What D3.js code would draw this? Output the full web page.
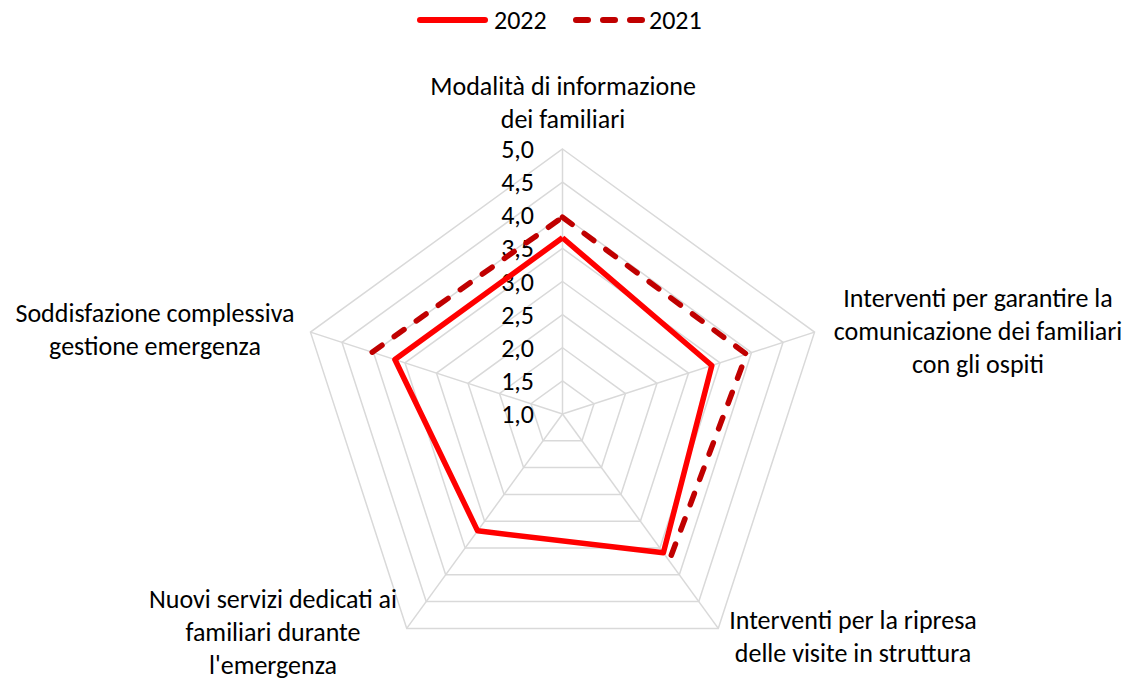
<!DOCTYPE html>
<html>
<head>
<meta charset="utf-8">
<script src="https://cdn.jsdelivr.net/npm/d3@7"></script>
<style>
  body{margin:0;background:#fff;}
  svg text{font-family:Carlito,Calibri,Lato,sans-serif;fill:#000;}
</style>
</head>
<body>
<div class="Radar"></div>
<script>
// categorie (assi del radar, in senso orario dall'alto)
var categories=[
	["Modalità di informazione","dei familiari"],
	["Interventi per garantire la","comunicazione dei familiari","con gli ospiti"],
	["Interventi per la ripresa","delle visite in struttura"],
	["Nuovi servizi dedicati ai","familiari durante","l'emergenza"],
	["Soddisfazione complessiva","gestione emergenza"]
];
var series=["2022","2021"];
var values2022=[3.66,3.37,3.59,3.18,3.66];
// nel 2021 il servizio "Nuovi servizi" non era rilevato
var values2021=[3.97,3.92,3.74,null,4.02];
var ticks=[1.0,1.5,2.0,2.5,3.0,3.5,4.0,4.5,5.0];

var width=1130,height=688;
var cx=562.5,cy=414,radius=265;
var fs=26;

var svg=d3.select('div.Radar')
		.append('svg')
		.attr('width',width)
		.attr('height',height);

var r=d3.scaleLinear().domain([1,5]).range([0,radius]);
var angle=function(i){return -Math.PI/2+i*2*Math.PI/categories.length;};
var pt=function(v,i){return [cx+r(v)*Math.cos(angle(i)),cy+r(v)*Math.sin(angle(i))];};

var g=svg.append('g');

//griglia
ticks.slice(1).forEach(function(t){
	g.append('polygon')
		.attr('points',categories.map(function(c,i){return pt(t,i).join(',');}).join(' '))
		.attr('fill','none')
		.attr('stroke','#d9d9d9')
		.attr('stroke-width',1.5);
});
categories.forEach(function(c,i){
	var p=pt(5,i);
	g.append('line')
		.attr('x1',cx).attr('y1',cy)
		.attr('x2',p[0]).attr('y2',p[1])
		.attr('stroke','#d9d9d9')
		.attr('stroke-width',1.5);
});

//etichette dei valori
g.selectAll('text.tick')
	.data(ticks)
	.enter()
	.append('text')
	.attr('class','tick')
	.attr('x',534)
	.attr('y',function(d){return cy-r(d)+9;})
	.attr('text-anchor','end')
	.style('font-size',fs+'px')
	.text(function(d){return d.toFixed(1).replace('.',',');});

//serie: chiudo il poligono ripetendo il primo punto, salto i valori mancanti
var line=d3.line()
		.defined(function(d){return d.v!=null;})
		.x(function(d){return pt(d.v,d.i)[0];})
		.y(function(d){return pt(d.v,d.i)[1];});
function closed(vals){
	var a=vals.map(function(v,i){return {v:v,i:i};});
	a.push(a[0]);
	return a;
}
g.append('path')
	.attr('d',line(closed(values2021)))
	.attr('fill','none')
	.attr('stroke','#c00000')
	.attr('stroke-width',5.5)
	.attr('stroke-dasharray','12,15')
	.attr('stroke-linecap','round')
	.attr('stroke-linejoin','round');
g.append('path')
	.attr('d',line(closed(values2022)))
	.attr('fill','none')
	.attr('stroke','#ff0000')
	.attr('stroke-width',5.5)
	.attr('stroke-linejoin','round');

//etichette delle categorie
var labelPos=[[563,95],[978,307],[853,629],[273,608],[155,322]];
categories.forEach(function(c,i){
	var t=g.append('text')
		.attr('text-anchor','middle')
		.style('font-size',fs+'px');
	c.forEach(function(s,k){
		t.append('tspan')
			.attr('x',labelPos[i][0])
			.attr('y',labelPos[i][1]+k*33)
			.text(s);
	});
});

//legenda
var leg=svg.append('g');
leg.append('line')
	.attr('x1',420).attr('x2',485).attr('y1',20).attr('y2',20)
	.attr('stroke','#ff0000').attr('stroke-width',6).attr('stroke-linecap','round');
leg.append('text').attr('x',494).attr('y',29).style('font-size',fs+'px').text(series[0]);
leg.append('line')
	.attr('x1',576).attr('x2',643).attr('y1',20).attr('y2',20)
	.attr('stroke','#c00000').attr('stroke-width',6).attr('stroke-linecap','round')
	.attr('stroke-dasharray','12,15');
leg.append('text').attr('x',649).attr('y',29).style('font-size',fs+'px').text(series[1]);
</script>
</body>
</html>
